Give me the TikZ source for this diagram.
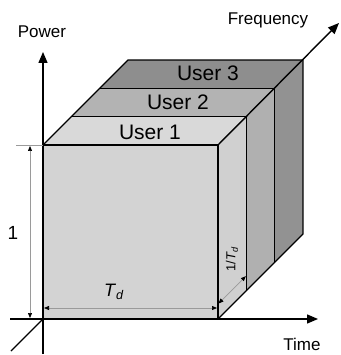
\documentclass[tikz,border=0pt]{standalone}
\usepackage{fontspec}
\setmainfont{Liberation Sans}
\usetikzlibrary{arrows.meta,calc}
\definecolor{frontc}{HTML}{D3D3D3}
\definecolor{topa}{HTML}{D9D9D9}
\definecolor{topb}{HTML}{B3B3B3}
\definecolor{topc}{HTML}{8E8E8E}
\definecolor{sidea}{HTML}{D0D0D0}
\definecolor{sideb}{HTML}{B0B0B0}
\definecolor{sidec}{HTML}{929292}
\definecolor{dimc}{HTML}{9A9A9A}
\begin{document}
\begin{tikzpicture}[x=1pt,y=-1pt,line join=round,
  axis/.style={line width=1.4pt,black,-{Triangle[length=11pt,width=9pt]}},
  edge/.style={line width=1.3pt,black},
  dimline/.style={line width=0.7pt,dimc,{Triangle[black,length=5pt,width=4pt]}-{Triangle[black,length=5pt,width=4pt]}},
  extline/.style={line width=0.7pt,dimc},
  lbl/.style={inner sep=0pt,font=\fontsize{17}{17}\selectfont},
  userlbl/.style={inner sep=0pt,font=\fontsize{21}{21}\selectfont}]
\useasboundingbox (0,0) rectangle (340,355);
% key points
\coordinate (O) at (43,319);
\coordinate (FTL) at (43,145);
\coordinate (FTR) at (218,145);
\coordinate (FBR) at (218,319);
\foreach \i in {0,1,2,3}{
  \coordinate (A\i) at ($(FTL)+\i*(28.33,-28.33)$);
  \coordinate (B\i) at ($(FTR)+\i*(28.33,-28.33)$);
  \coordinate (C\i) at ($(FBR)+\i*(28.33,-28.33)$);
}
% faces
\fill[frontc] (O) rectangle (FTR);
\fill[topa] (A0) -- (B0) -- (B1) -- (A1) -- cycle;
\fill[topb] (A1) -- (B1) -- (B2) -- (A2) -- cycle;
\fill[topc] (A2) -- (B2) -- (B3) -- (A3) -- cycle;
\fill[sidea] (B0) -- (B1) -- (C1) -- (C0) -- cycle;
\fill[sideb] (B1) -- (B2) -- (C2) -- (C1) -- cycle;
\fill[sidec] (B2) -- (B3) -- (C3) -- (C2) -- cycle;
% edges
\draw[edge] (A0) -- (A3) -- (B3) -- (C3) -- (C0);
\draw[edge] (A0) -- (B0) -- (C0);
\draw[edge] (A1) -- (B1) -- (C1);
\draw[edge] (A2) -- (B2) -- (C2);
% axes
\coordinate (Pstart) at (43,354);
\coordinate (Ptip) at (43,52);
\coordinate (Tstart) at (10,319);
\coordinate (Ttip) at (318,319);
\coordinate (Fstart) at (11,351);
\coordinate (Ftip) at (339,23);
\draw[axis] (Pstart) -- (Ptip);
\draw[axis] (Tstart) -- (Ttip);
\draw[line width=1.4pt] (Fstart) -- (O);
\draw[axis] (B0) -- (Ftip);
% dimensions
\coordinate (V1) at (30,146);
\coordinate (V2) at (30,318);
\coordinate (E1) at (16,145);
\draw[extline] (E1) -- (FTL);
\draw[dimline] (V1) -- (V2);
\coordinate (H1) at (44,308);
\coordinate (H2) at (217,308);
\draw[dimline] (H1) -- (H2);
\coordinate (D1) at ($(C0)+(0.5,-15.5)$);
\coordinate (D2) at ($(C1)+(-0.5,-14.5)$);
\draw[dimline] (D1) -- (D2);
% labels
\node[lbl] (power) at (42,32) {Power};
\node[lbl] (freq) at (268,20) {Frequency};
\node[lbl] (time) at (302,344) {Time};
\node[userlbl] (u3) at (208,73) {User 3};
\node[userlbl] (u2) at (178,102) {User 2};
\node[userlbl] (u1) at (150,132) {User 1};
\node[inner sep=0pt,font=\fontsize{19}{19}\selectfont] (one) at (13,233) {1};
\node[inner sep=0pt,font=\fontsize{18}{18}\selectfont] (td) at (114,292) {\textit{T}\textsubscript{\textit{d}}};
\node[inner sep=0pt,rotate=90,font=\fontsize{13}{13}\selectfont] (itd) at (232,259) {1/\textit{T}\textsubscript{\textit{d}}};
\end{tikzpicture}
\end{document}
